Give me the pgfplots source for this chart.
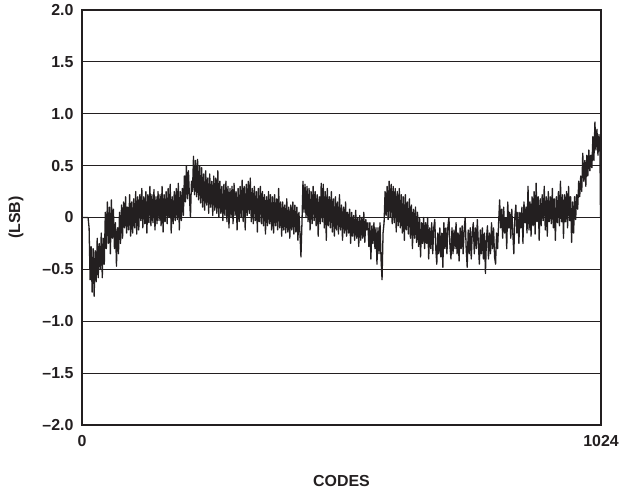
\documentclass[border=0pt]{standalone}
\usepackage{pgfplots}
\pgfplotsset{compat=1.18}
\usepackage{fontspec}
\setmainfont{Liberation Sans}
\definecolor{inl}{HTML}{231F20}
\begin{document}
\begin{tikzpicture}
\path[use as bounding box] (-82bp,-67bp) rectangle (537bp,425bp);
\begin{axis}[
  scale only axis,
  width=519bp, height=415bp,
  at={(0,0)}, anchor=south west,
  xmin=0, xmax=1024, ymin=-2, ymax=2,
  xtick={0,1024}, xticklabels={0,1024},
  ytick={-2,-1.5,-1,-0.5,0,0.5,1,1.5,2},
  yticklabels={\textendash2.0,\textendash1.5,\textendash1.0,\textendash0.5,0,0.5,1.0,1.5,2.0},
  major tick length=0pt,
  ymajorgrids,
  major grid style={line width=0.8bp, color=inl},
  axis line style={line width=1.6bp, color=inl},
  tick label style={font=\fontsize{16}{19}\selectfont\bfseries, color=inl},
  yticklabel style={xshift=-5bp},
  xticklabel style={yshift=-7bp},
  clip=true,
]
\addplot[color=inl, line width=1.3bp, line join=round] coordinates {
(0,0) (2,0) (4,0) (6,0) (8,0) (10,0) (12,0)
(14,-0.10) (16,-0.60) (18,-0.28) (20,-0.72) (22,-0.30) (24,-0.76) (26,-0.32) (28,-0.62) (30,-0.20)
(32,-0.58) (34,-0.25) (36,-0.50) (38,-0.15) (40,-0.58) (42,-0.20) (44,-0.45) (46,0.05) (48,-0.30)
(50,0.15) (52,-0.25) (54,0.10) (56,-0.35) (58,0.17) (60,-0.20) (62,0.08) (64,-0.30) (66,-0.05)
(68,-0.47) (70,-0.10) (72,-0.35) (74,0.05) (76,-0.25) (78,0.12) (80,-0.20) (82,0.15) (84,-0.10)
(86,0.20) (88,-0.15) (90,0.10) (92,-0.12) (94,0.22) (96,-0.18) (98,0.15) (100,-0.15) (102,0.18)
(104,-0.10) (106,0.25) (108,-0.16) (110,0.20) (112,-0.12) (114,0.22) (116,-0.03) (118,0.28) (120,-0.10)
(122,0.20) (124,-0.06) (126,0.25) (128,-0.15) (130,0.22) (132,-0.05) (134,0.30) (136,-0.08) (138,0.22)
(140,-0.05) (142,0.27) (144,-0.12) (146,0.20) (148,-0.06) (150,0.25) (152,-0.03) (154,0.22) (156,-0.08)
(158,0.30) (160,-0.14) (162,0.22) (164,-0.04) (166,0.25) (168,-0.06) (170,0.28) (172,0.00) (174,0.32)
(176,-0.15) (178,0.20) (180,-0.06) (182,0.25) (184,-0.03) (186,0.28) (188,-0.02) (190,0.33) (192,-0.12)
(194,0.25) (196,-0.03) (198,0.28) (200,0.02) (202,0.40) (204,0.15) (206,0.50) (208,0.18) (210,0.45)
(212,0.20) (214,0.00) (216,0.35) (218,0.25) (220,0.59) (222,0.22) (224,0.55) (226,0.20) (228,0.56)
(230,0.17) (232,0.50) (234,0.14) (236,0.48) (238,0.10) (240,0.42) (242,0.07) (244,0.45) (246,0.12)
(248,0.38) (250,0.04) (252,0.42) (254,0.10) (256,0.35) (258,0.02) (260,0.40) (262,0.07) (264,0.38)
(266,0.04) (268,0.45) (270,0.00) (272,0.35) (274,0.04) (276,0.30) (278,-0.03) (280,0.32) (282,0.02)
(284,0.35) (286,-0.04) (288,0.30) (290,-0.10) (292,0.28) (294,0.00) (296,0.30) (298,-0.06) (300,0.33)
(302,0.02) (304,0.25) (306,-0.12) (308,0.28) (310,-0.04) (312,0.30) (314,0.00) (316,0.36) (318,-0.04)
(320,0.30) (322,-0.12) (324,0.32) (326,0.02) (328,0.35) (330,0.04) (332,0.38) (334,-0.04) (336,0.28)
(338,-0.06) (340,0.30) (342,-0.03) (344,0.25) (346,-0.14) (348,0.28) (350,-0.04) (352,0.30) (354,-0.06)
(356,0.25) (358,-0.08) (360,0.22) (362,-0.16) (364,0.20) (366,-0.08) (368,0.25) (370,-0.06) (372,0.22)
(374,-0.12) (376,0.20) (378,-0.15) (380,0.22) (382,-0.08) (384,0.18) (386,-0.12) (388,0.28) (390,-0.10)
(392,0.15) (394,-0.18) (396,0.15) (398,-0.12) (400,0.12) (402,-0.15) (404,0.18) (406,-0.14) (408,0.10)
(410,-0.20) (412,0.12) (414,-0.12) (416,0.15) (418,-0.16) (420,0.12) (422,-0.14) (424,0.10) (426,-0.22)
(428,0.05) (430,-0.15) (432,-0.38) (434,-0.05) (436,0.35) (438,0.05) (440,0.32) (442,0.00) (444,0.30)
(446,-0.04) (448,0.28) (450,-0.12) (452,0.25) (454,-0.06) (456,0.30) (458,-0.03) (460,0.25) (462,-0.08)
(464,0.22) (466,-0.18) (468,0.20) (470,-0.06) (472,0.33) (474,-0.04) (476,0.32) (478,-0.10) (480,0.25)
(482,-0.22) (484,0.28) (486,-0.08) (488,0.20) (490,-0.10) (492,0.25) (494,-0.14) (496,0.18) (498,-0.18)
(500,0.20) (502,-0.12) (504,0.15) (506,-0.16) (508,0.22) (510,-0.12) (512,0.12) (514,-0.22) (516,0.10)
(518,-0.15) (520,0.15) (522,-0.18) (524,0.05) (526,-0.15) (528,0.08) (530,-0.25) (532,0.05) (534,-0.18)
(536,0.02) (538,-0.22) (540,0.07) (542,-0.20) (544,0.00) (546,-0.28) (548,0.02) (550,-0.22) (552,0.00)
(554,-0.20) (556,0.05) (558,-0.24) (560,-0.02) (562,-0.12) (564,-0.05) (566,-0.28) (568,-0.05) (570,-0.40)
(572,-0.08) (574,-0.25) (576,-0.05) (578,-0.30) (580,-0.10) (582,-0.45) (584,-0.10) (586,-0.35) (588,-0.05)
(590,-0.40) (592,-0.60) (594,-0.15) (596,-0.05) (598,0.25) (600,0.02) (602,0.30) (604,-0.02) (606,0.35)
(608,0.00) (610,0.32) (612,-0.06) (614,0.30) (616,-0.05) (618,0.28) (620,-0.14) (622,0.25) (624,-0.08)
(626,0.28) (628,-0.10) (630,0.22) (632,-0.15) (634,0.20) (636,-0.22) (638,0.22) (640,-0.12) (642,0.15)
(644,-0.16) (646,0.18) (648,-0.20) (650,0.12) (652,-0.30) (654,0.08) (656,-0.20) (658,0.10) (660,-0.24)
(662,0.05) (664,-0.28) (666,0.00) (668,-0.38) (670,-0.05) (672,-0.25) (674,0.00) (676,-0.30) (678,-0.05)
(680,-0.25) (682,0.00) (684,-0.40) (686,-0.10) (688,-0.30) (690,-0.05) (692,-0.35) (694,-0.10) (696,-0.02)
(698,-0.30) (700,-0.45) (702,-0.15) (704,-0.35) (706,-0.10) (708,-0.38) (710,-0.15) (712,-0.48) (714,-0.05)
(716,-0.30) (718,-0.10) (720,-0.35) (722,-0.08) (724,0.00) (726,-0.28) (728,-0.40) (730,-0.10) (732,-0.35)
(734,-0.12) (736,-0.30) (738,-0.05) (740,-0.35) (742,-0.15) (744,-0.42) (746,-0.10) (748,-0.30) (750,-0.08)
(752,-0.35) (754,-0.12) (756,0.00) (758,-0.30) (760,-0.48) (762,-0.12) (764,-0.35) (766,-0.10) (768,-0.40)
(770,-0.15) (772,-0.05) (774,-0.35) (776,-0.10) (778,-0.30) (780,-0.02) (782,-0.25) (784,-0.45) (786,-0.12)
(788,-0.35) (790,-0.10) (792,-0.40) (794,-0.15) (796,-0.54) (798,-0.20) (800,-0.08) (802,-0.40) (804,-0.15)
(806,-0.35) (808,-0.05) (810,-0.30) (812,-0.10) (814,-0.38) (816,-0.45) (818,-0.15) (820,-0.30) (822,-0.05)
(824,0.17) (826,-0.10) (828,0.08) (830,-0.20) (832,0.10) (834,-0.15) (836,0.00) (838,-0.30) (840,0.15)
(842,-0.10) (844,0.05) (846,-0.20) (848,0.08) (850,-0.15) (852,-0.35) (854,0.00) (856,0.12) (858,-0.15)
(860,0.05) (862,-0.25) (864,0.05) (866,-0.10) (868,0.10) (870,-0.25) (872,0.15) (874,-0.05) (876,0.10)
(878,-0.15) (880,0.30) (882,-0.12) (884,0.15) (886,-0.18) (888,0.20) (890,-0.08) (892,0.25) (894,-0.16)
(896,0.33) (898,-0.04) (900,0.20) (902,-0.22) (904,0.18) (906,-0.08) (908,0.22) (910,-0.03) (912,0.30)
(914,-0.12) (916,0.20) (918,-0.18) (920,0.25) (922,-0.04) (924,0.20) (926,-0.06) (928,0.28) (930,-0.10)
(932,0.18) (934,-0.22) (936,0.20) (938,-0.05) (940,0.25) (942,-0.08) (944,0.35) (946,-0.04) (948,0.22)
(950,-0.20) (952,0.22) (954,-0.04) (956,0.25) (958,-0.10) (960,0.30) (962,-0.03) (964,0.20) (966,-0.24)
(968,0.15) (970,-0.15) (972,0.20) (974,-0.02) (976,0.22) (978,0.08) (980,0.35) (982,0.20) (984,0.40)
(986,0.25) (988,0.62) (990,0.35) (992,0.55) (994,0.30) (996,0.60) (998,0.40) (1000,0.65) (1002,0.45)
(1004,0.60) (1006,0.48) (1008,0.78) (1010,0.55) (1012,0.92) (1014,0.65) (1016,0.85) (1018,0.60) (1020,0.80)
(1022,0.62) (1023,0.0)
};
\end{axis}
\node[rotate=90, font=\fontsize{16}{19}\selectfont\bfseries, color=inl] at (-66bp,207.5bp) {(LSB)};
\node[font=\fontsize{16}{19}\selectfont\bfseries, color=inl] at (259.5bp,-56bp) {CODES};
\end{tikzpicture}
\end{document}
